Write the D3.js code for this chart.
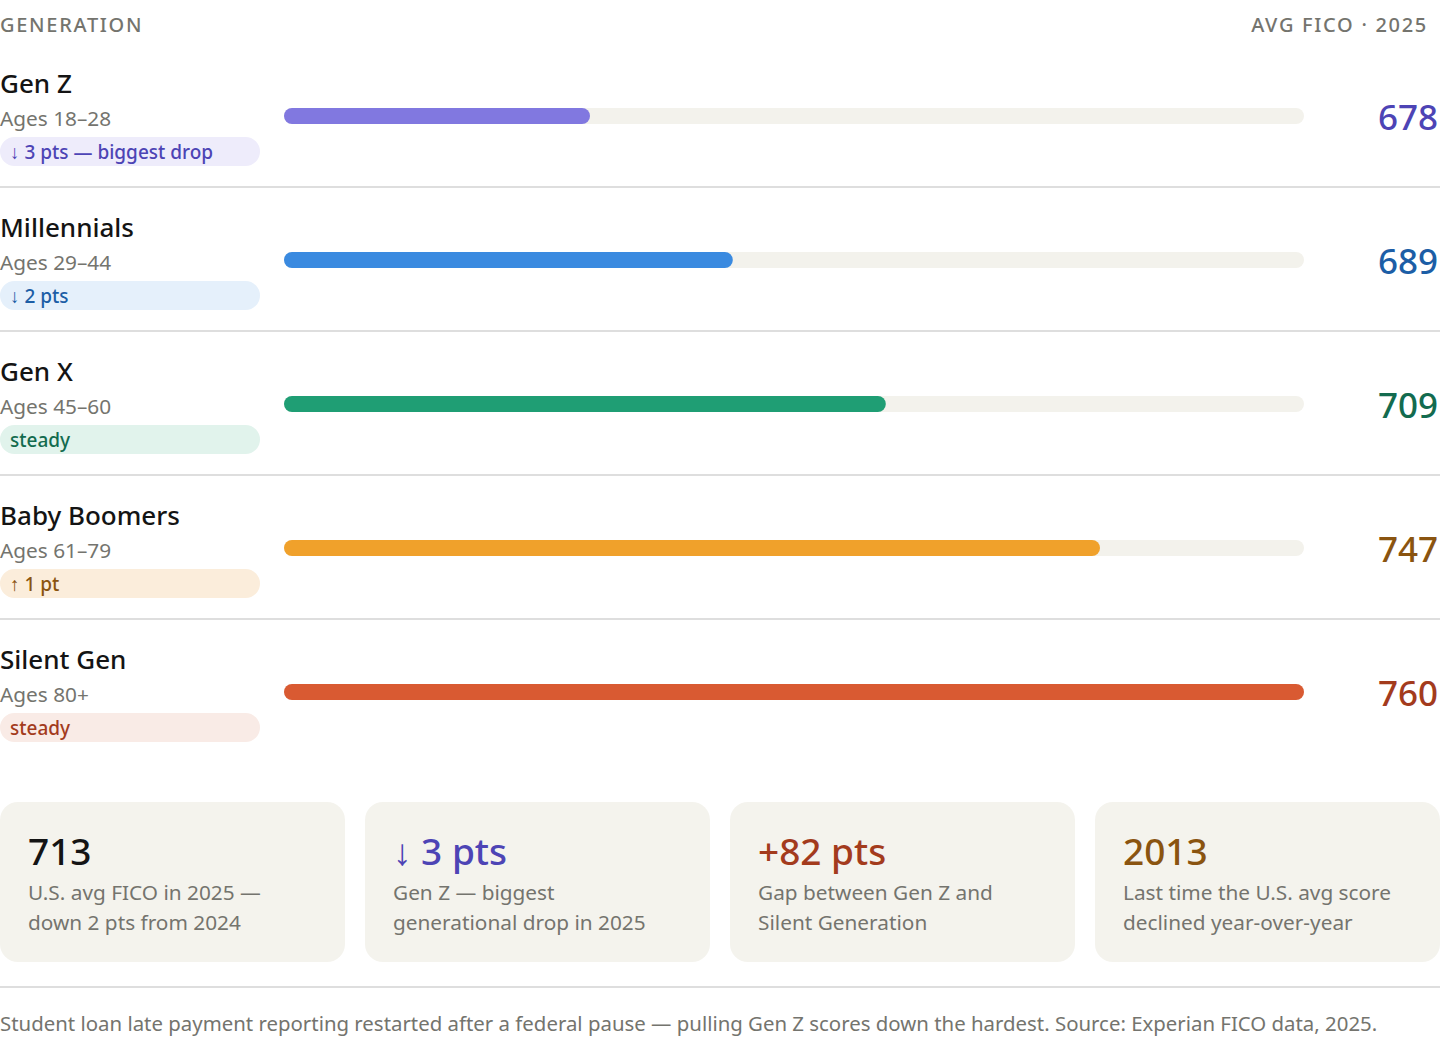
<!DOCTYPE html>
<html>
<head>
<meta charset="utf-8">
<script src="https://cdn.jsdelivr.net/npm/d3@7"></script>
<style>
  body { margin: 0; background: #fff; }
  svg { display: block; font-family: "Noto Sans", "Open Sans", sans-serif; }
</style>
</head>
<body>
<script>
const generations = ["Gen Z", "Millennials", "Gen X", "Baby Boomers", "Silent Gen"];
const ages = ["Ages 18–28", "Ages 29–44", "Ages 45–60", "Ages 61–79", "Ages 80+"];
const scores = [678, 689, 709, 747, 760];
const fillPct = [30, 44, 59, 80, 100];
const badges = ["↓ 3 pts — biggest drop", "↓ 2 pts", "steady", "↑ 1 pt", "steady"];

const barColors = ["#8178e0", "#3a8ae0", "#1f9e74", "#f0a12b", "#d95a32"];
const inkColors = ["#4d44b5", "#1c5ea6", "#136b4f", "#8a5410", "#a33b1d"];
const badgeBg = ["#eeecfb", "#e5f0fb", "#e1f3ec", "#fbeddb", "#f9ebe6"];

const statValues = ["713", "↓ 3 pts", "+82 pts", "2013"];
const statLines = [
  ["U.S. avg FICO in 2025 —", "down 2 pts from 2024"],
  ["Gen Z — biggest", "generational drop in 2025"],
  ["Gap between Gen Z and", "Silent Generation"],
  ["Last time the U.S. avg score", "declined year-over-year"]
];
const statColors = ["#141414", "#4d44b5", "#a33b1d", "#8a5410"];

const footnote = "Student loan late payment reporting restarted after a federal pause — pulling Gen Z scores down the hardest. Source: Experian FICO data, 2025.";

const W = 1440, H = 1064;
const svg = d3.select("body").append("svg").attr("width", W).attr("height", H);

const grey = "#74746e";

svg.append("text").attr("x", 0).attr("y", 32)
  .attr("font-size", 20).attr("font-weight", 500).attr("letter-spacing", 1.7)
  .attr("fill", grey).text("GENERATION");
svg.append("text").attr("x", 1428).attr("y", 32).attr("text-anchor", "end")
  .attr("font-size", 20).attr("font-weight", 500).attr("letter-spacing", 1.7)
  .attr("fill", grey).text("AVG FICO · 2025");

const rowY = d3.scaleBand().domain(d3.range(generations.length)).range([44, 764]);
const x = d3.scaleLinear().domain([0, 100]).range([284, 1304]);

const rows = svg.selectAll("g.row").data(generations).join("g")
  .attr("class", "row")
  .attr("transform", (d, i) => `translate(0,${rowY(i)})`);

rows.append("text").attr("x", 0).attr("y", 49)
  .attr("font-size", 26).attr("font-weight", 500).attr("fill", "#141414")
  .text(d => d);
rows.append("text").attr("x", 0).attr("y", 82)
  .attr("font-size", 20.8).attr("fill", grey)
  .text((d, i) => ages[i]);
rows.append("rect").attr("x", 0).attr("y", 93).attr("width", 260).attr("height", 29)
  .attr("rx", 14.5).attr("fill", (d, i) => badgeBg[i]);
rows.append("text").attr("x", 10).attr("y", 115)
  .attr("font-size", 19).attr("font-weight", 500).attr("fill", (d, i) => inkColors[i])
  .text((d, i) => badges[i]);

rows.append("rect").attr("x", x(0)).attr("y", 64).attr("height", 16).attr("rx", 8)
  .attr("width", x(100) - x(0)).attr("fill", "#f3f2ec");
rows.append("rect").attr("x", x(0)).attr("y", 64).attr("height", 16).attr("rx", 8)
  .attr("width", (d, i) => x(fillPct[i]) - x(0)).attr("fill", (d, i) => barColors[i]);

rows.append("text").attr("x", 1438).attr("y", 86).attr("text-anchor", "end")
  .attr("font-size", 35).attr("font-weight", 500).attr("fill", (d, i) => inkColors[i])
  .text((d, i) => scores[i]);

rows.filter((d, i) => i < generations.length - 1).append("line")
  .attr("x1", 0).attr("x2", W).attr("y1", 143).attr("y2", 143)
  .attr("stroke", "#dedede").attr("stroke-width", 2);

// stat cards
const cardX = d3.scaleBand().domain(d3.range(statValues.length)).range([0, 1460]);
const cards = svg.selectAll("g.card").data(statValues).join("g")
  .attr("class", "card")
  .attr("transform", (d, i) => `translate(${cardX(i)},802)`);
cards.append("rect").attr("width", cardX.bandwidth() - 20).attr("height", 160)
  .attr("rx", 18).attr("fill", "#f4f3ed");
cards.append("text").attr("x", 28).attr("y", 63)
  .attr("font-size", 37).attr("font-weight", 500).attr("fill", (d, i) => statColors[i])
  .text(d => d);
cards.each(function(d, i) {
  d3.select(this).selectAll("text.line").data(statLines[i]).join("text")
    .attr("class", "line").attr("x", 28).attr("y", (t, j) => 98 + j * 30)
    .attr("font-size", 20.8).attr("fill", grey).text(t => t);
});

svg.append("line").attr("x1", 0).attr("x2", W).attr("y1", 987).attr("y2", 987)
  .attr("stroke", "#dedede").attr("stroke-width", 2);
svg.append("text").attr("x", 0).attr("y", 1031)
  .attr("font-size", 20.4).attr("fill", grey).text(footnote);
</script>
</body>
</html>
